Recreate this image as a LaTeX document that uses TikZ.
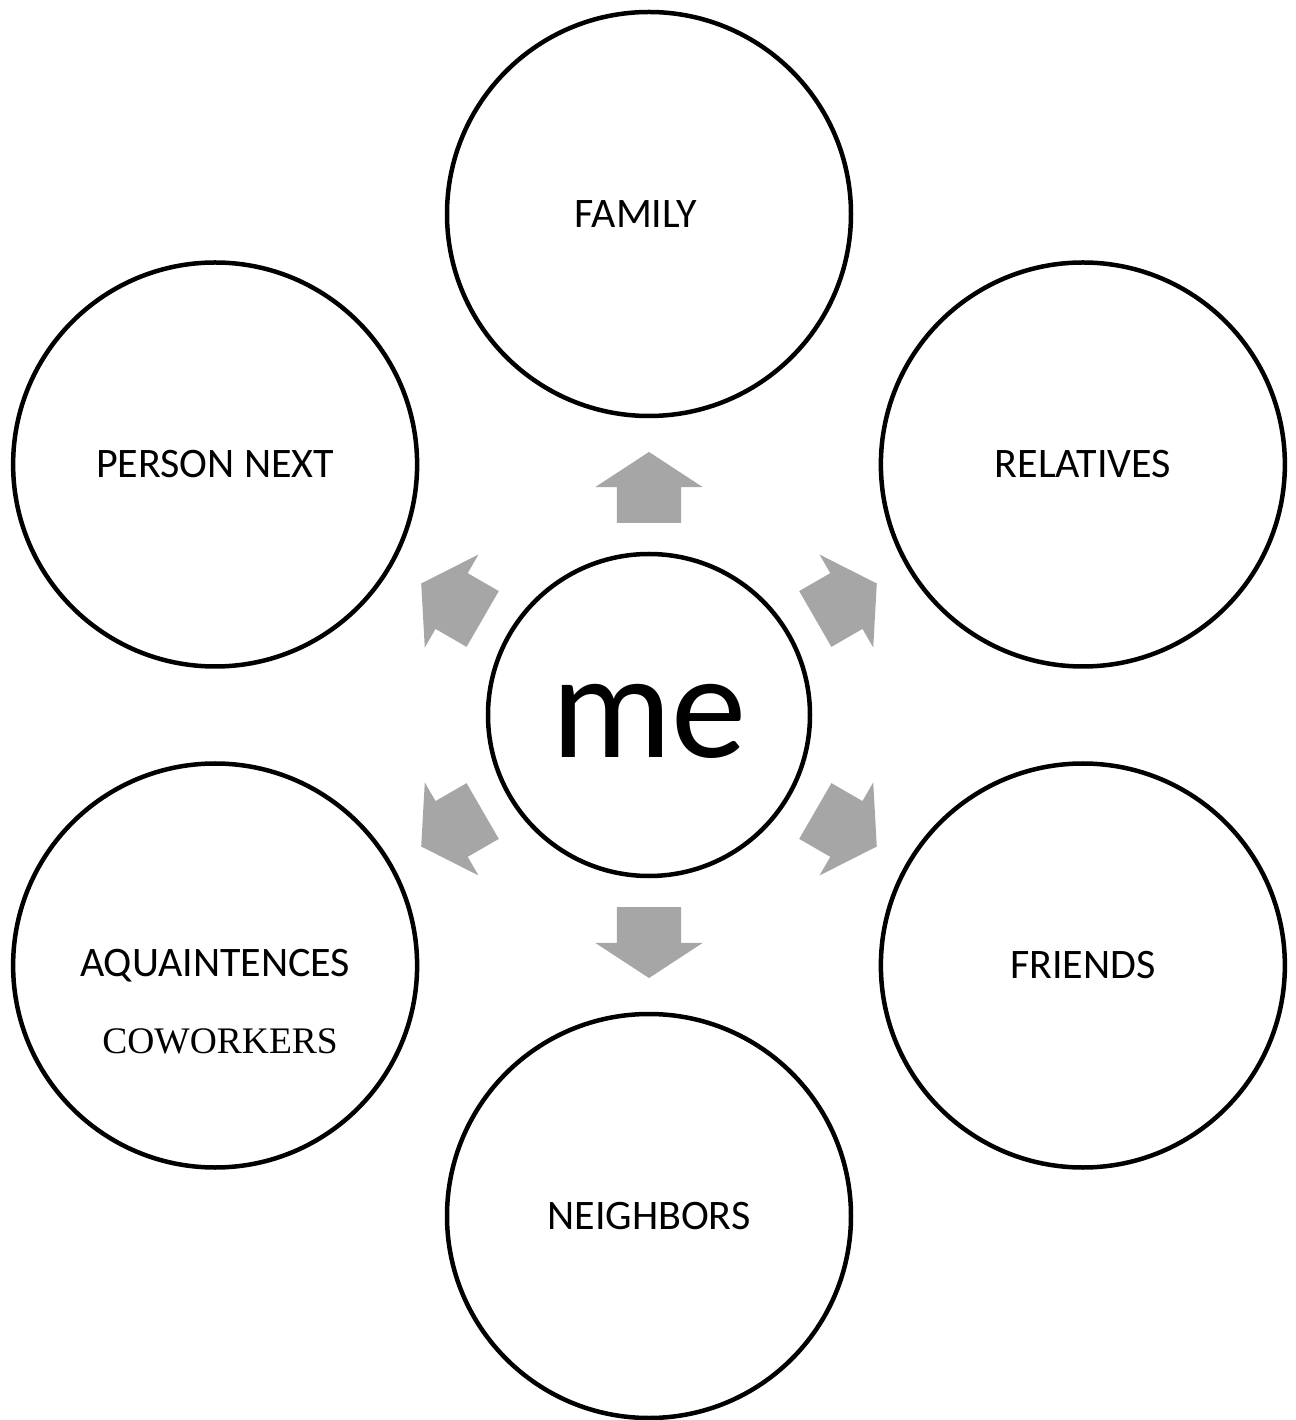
\documentclass[tikz,border=0pt]{standalone}
\usepackage{fontspec}
\setmainfont{Carlito}
\newfontfamily\coworkfont{Liberation Serif}
\usetikzlibrary{shapes.arrows}
\definecolor{arrowgray}{HTML}{A6A6A6}

\begin{document}
\begin{tikzpicture}[x=1pt,y=1pt,
  main node/.style={circle,draw,line width=4.5pt,inner sep=0pt,minimum size=404pt,
    font=\fontsize{42}{48}\selectfont},
  me node/.style={circle,draw,line width=4.5pt,inner sep=0pt,minimum size=322pt,
    font=\fontsize{151}{160}\selectfont},
  block arrow/.style={single arrow,fill=arrowgray,draw=none,inner xsep=0pt,inner ysep=32pt,
    minimum height=71pt,minimum width=107pt,single arrow head extend=21.5pt,
    single arrow tip angle=113.6}]
\useasboundingbox (-649,-705) rectangle (646,715);
\node[me node] (me) at (0,0) {\raisebox{-43pt}[0pt][0pt]{me}};
\node[main node] (family) at (90:501) {FAMILY\hspace*{26pt}};
\node[main node] (relatives) at (30:501) {RELATIVES};
\node[main node] (friends) at (-30:501) {FRIENDS};
\node[main node] (neighbors) at (-90:501) {NEIGHBORS};
\node[main node] (aquaintences) at (-150:501) {AQUAINTENCES};
\node[main node] (personnext) at (150:501) {PERSON NEXT};
\node[font=\coworkfont\fontsize{37.5}{42}\selectfont,inner sep=0pt] (coworkers)
  at ([shift={(5,-76)}]aquaintences.center) {COWORKERS};
% gray block arrows from me out to the circles
\foreach \a in {90,30,-30,-90,-150,150}
  \node[block arrow,rotate=\a] (arrow\a) at (\a:217) {};
\end{tikzpicture}
\end{document}
